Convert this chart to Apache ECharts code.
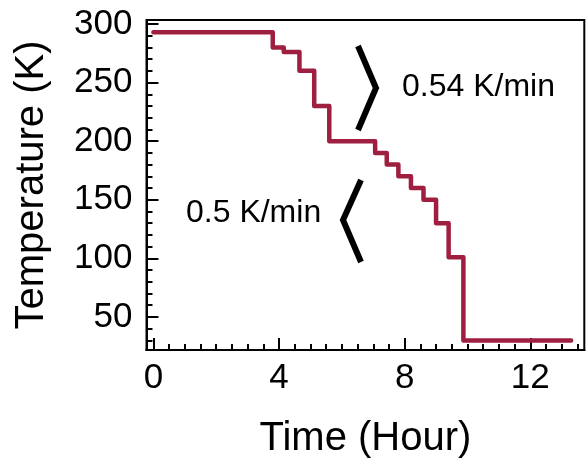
<!DOCTYPE html>
<html>
<head>
<meta charset="utf-8">
<script src="https://cdn.jsdelivr.net/npm/echarts@6/dist/echarts.min.js"></script>
<style>html,body{margin:0;padding:0;background:#fff}#c{width:587px;height:464px}</style>
</head>
<body>
<div id="c"></div>
<script>
// Step times (hours) and temperature held from that time (K)
var times = [0, 3.8, 4.15, 4.65, 5.12, 5.6, 7.06, 7.43, 7.8, 8.2, 8.6, 9.0, 9.4, 9.87, 13.3];
var temps = [293, 280, 276, 260, 230, 200, 190, 180, 170, 160, 150, 130, 101, 30, 30];
var xMajor = [0, 4, 8, 12];
var xMinor = [0,0.5,1,1.5,2,2.5,3,3.5,4,4.5,5,5.5,6,6.5,7,7.5,8,8.5,9,9.5,10,10.5,11,11.5,12,12.5,13,13.5];
var yMajor = [50, 100, 150, 200, 250, 300];
var yMinor = [30,40,50,60,70,80,90,100,110,120,130,140,150,160,170,180,190,200,210,220,230,240,250,260,270,280,290,300];
var xRange = [-0.22, 13.72];
var yRange = [21.8, 303.4];

var FONT = 'Liberation Sans, Arial, sans-serif';
var chart = echarts.init(document.getElementById('c'), null, {renderer: 'canvas'});
var data = times.map(function (t, i) { return [t, temps[i]]; });

function xAxisDef(major) {
  return {
    type: 'value', min: xRange[0], max: xRange[1], position: 'bottom',
    axisLine: {show: true, onZero: false, lineStyle: {color: '#000', width: 2}},
    axisTick: {show: true, inside: true, length: major ? 12 : 6, lineStyle: {color: '#000', width: 2},
               customValues: major ? xMajor : xMinor},
    axisLabel: {show: major, customValues: xMajor, fontSize: 35, color: '#000', fontFamily: FONT, margin: 11},
    splitLine: {show: false},
    name: major ? 'Time (Hour)' : '', nameLocation: 'middle', nameGap: 69,
    nameTextStyle: {fontSize: 40, color: '#000', fontFamily: FONT}
  };
}
function yAxisDef(major) {
  return {
    type: 'value', min: yRange[0], max: yRange[1], position: 'left',
    axisLine: {show: true, onZero: false, lineStyle: {color: '#000', width: 2}},
    axisTick: {show: true, inside: true, length: major ? 12 : 6, lineStyle: {color: '#000', width: 2},
               customValues: major ? yMajor : yMinor},
    axisLabel: {show: major, customValues: yMajor, fontSize: 35, color: '#000', fontFamily: FONT, margin: 14},
    splitLine: {show: false},
    name: major ? 'Temperature (K)' : '', nameLocation: 'middle', nameGap: 95, nameRotate: 90,
    nameTextStyle: {fontSize: 40, color: '#000', fontFamily: FONT}
  };
}

chart.setOption({
  animation: false,
  grid: {left: 146.5, top: 20, right: 2.7, bottom: 110.7, show: true, borderColor: '#000', borderWidth: 2, backgroundColor: 'transparent'},
  xAxis: [xAxisDef(true), xAxisDef(false)],
  yAxis: [yAxisDef(true), yAxisDef(false)],
  series: [{
    type: 'line', step: 'end', data: data, showSymbol: false, symbol: 'none',
    xAxisIndex: 0, yAxisIndex: 0,
    lineStyle: {color: '#9e1f3f', width: 4.5, join: 'round', cap: 'round'}
  }],
  graphic: [
    {type: 'polyline', shape: {points: [[358, 46], [376, 88], [358, 130]]},
     style: {stroke: '#000', lineWidth: 6, fill: null}},
    {type: 'polyline', shape: {points: [[361, 180], [343, 220], [361, 262]]},
     style: {stroke: '#000', lineWidth: 6, fill: null}},
    {type: 'text', left: 402, top: 71, style: {text: '0.54 K/min', fontSize: 32, fontFamily: FONT, fill: '#000'}},
    {type: 'text', left: 186, top: 197, style: {text: '0.5 K/min', fontSize: 32, fontFamily: FONT, fill: '#000'}}
  ]
});
</script>
</body>
</html>
